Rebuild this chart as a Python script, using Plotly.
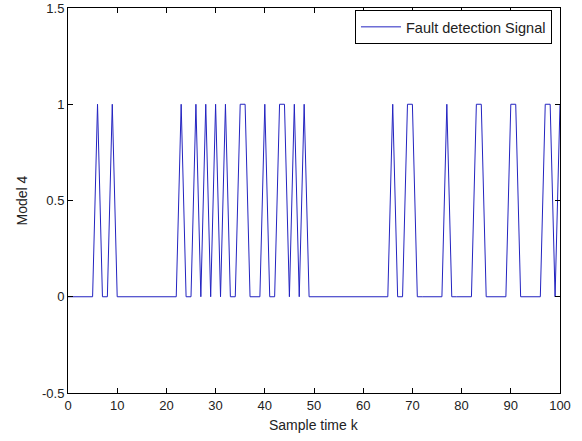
import plotly.graph_objects as go

# Sample times k = 0..100
k = list(range(0, 101))

# Samples at which the fault detection signal is 1
fault_samples = [6, 9, 23, 26, 28, 30, 32, 35, 36, 40, 43, 44, 46, 48,
                 66, 69, 70, 77, 83, 84, 90, 91, 97, 98, 100]

signal = [1 if t in fault_samples else 0 for t in k]

x_ticks = [0, 10, 20, 30, 40, 50, 60, 70, 80, 90, 100]
y_ticks = [-0.5, 0, 0.5, 1, 1.5]
y_tick_labels = ["-0.5", "0", "0.5", "1", "1.5"]

FONT = "Liberation Sans, Arial"
TXT = "#222"

fig = go.Figure()
fig.add_trace(go.Scatter(
    x=k, y=signal, mode="lines", name="Fault detection Signal",
    line=dict(color="#2323c0", width=1),
))

axis_common = dict(
    showline=True, linecolor="black", linewidth=1, mirror="ticks",
    ticks="inside", ticklen=5, tickcolor="black", showgrid=False,
    zeroline=False, automargin=False,
    tickfont=dict(family=FONT, size=13, color=TXT),
)

fig.update_layout(
    width=582, height=441,
    margin=dict(l=68, r=22, t=8, b=48, pad=0),
    paper_bgcolor="white", plot_bgcolor="white",
    font=dict(family=FONT, size=13, color=TXT),
    showlegend=True,
    legend=dict(
        x=0.9837, y=0.995, xanchor="right", yanchor="top",
        bordercolor="black", borderwidth=1, bgcolor="white",
        font=dict(family=FONT, size=14.5, color=TXT),
        itemwidth=40,
    ),
    xaxis=dict(range=[0, 100], tickvals=x_ticks, **axis_common),
    yaxis=dict(range=[-0.5, 1.5], tickvals=y_ticks, ticktext=y_tick_labels,
               **axis_common),
    annotations=[
        dict(text="Sample time k", xref="paper", yref="paper", x=0.5, y=0,
             xanchor="center", yanchor="middle", yshift=-32, showarrow=False,
             font=dict(family=FONT, size=14, color=TXT)),
        dict(text="Model 4", xref="paper", yref="paper", x=0, y=0.5,
             xanchor="center", yanchor="middle", xshift=-47, textangle=-90,
             showarrow=False, font=dict(family=FONT, size=14, color=TXT)),
    ],
)

fig.write_html("out.html", config={"displayModeBar": False},
               post_script="document.body.style.margin='0';")
